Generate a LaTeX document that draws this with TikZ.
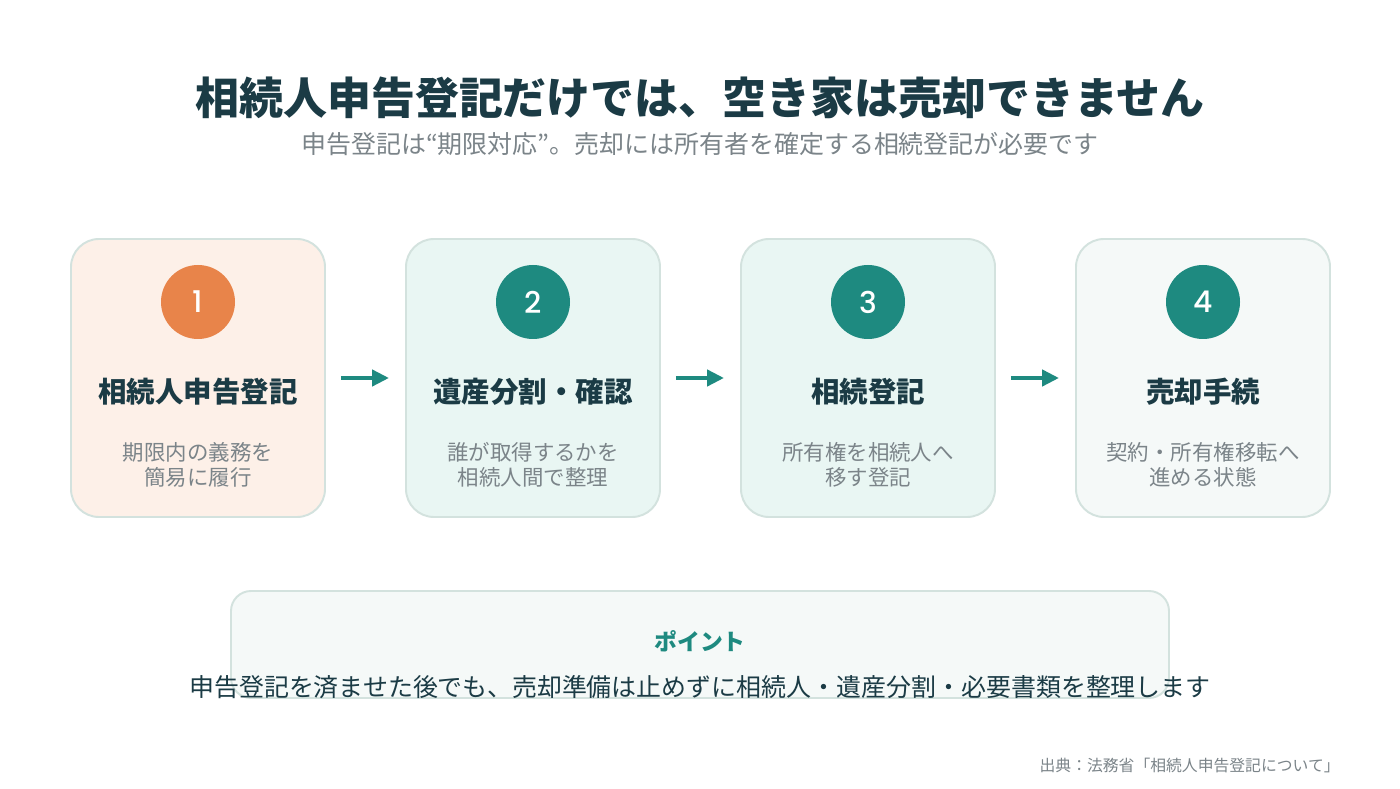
\documentclass[tikz,border=0pt]{standalone}
\usepackage{fontspec}
\setmainfont{Noto Sans CJK JP}
\newfontfamily\numfont{Poppins Medium}
\usetikzlibrary{arrows.meta, positioning}
\definecolor{ink}{HTML}{1B3B45}
\definecolor{muted}{HTML}{7B8489}
\definecolor{accent}{HTML}{1E8A80}
\definecolor{orangec}{HTML}{E8844A}
\definecolor{peach}{HTML}{FDF0E8}
\definecolor{mint}{HTML}{E9F6F3}
\definecolor{pale}{HTML}{F5F9F8}
\definecolor{cardline}{HTML}{D3E2DE}

\begin{document}
\begin{tikzpicture}[
      card/.style={draw=cardline, line width=1.1pt, rounded corners=0.56cm,
                   minimum width=5.08cm, minimum height=5.56cm},
      num/.style={circle, minimum size=1.48cm, inner sep=0pt, text=white,
                  font=\fontsize{17}{20}\selectfont\numfont},
      head/.style={text=ink, font=\fontsize{16.2}{18}\selectfont\bfseries},
      desc/.style={text=muted, align=center, font=\fontsize{12.2}{14.2}\selectfont},
      arr/.style={-{Triangle[length=0.34cm, width=0.32cm]}, line width=2.8pt,
                  draw=accent, shorten <=0.3cm, shorten >=0.32cm}
    ]
    \fill[white] (0,0) rectangle (28,15.76);
    \useasboundingbox (0,0) rectangle (28,15.76);

    % Titel
    \node[text=ink, font=\fontsize{25}{28}\selectfont\bfseries] (title) at (14,13.8)
      {相続人申告登記だけでは、空き家は売却できません};
    \node[text=muted, font=\fontsize{14.2}{16}\selectfont] (subtitle) at (14,12.88)
      {申告登記は“期限対応”。売却には所有者を確定する相続登記が必要です};

    % Schritte
    \foreach \i/\x/\fc/\cc/\hd/\ds in {
        1/3.96/peach/orangec/相続人申告登記/{期限内の義務を\\簡易に履行},
        2/10.66/mint/accent/遺産分割・確認/{誰が取得するかを\\相続人間で整理},
        3/17.36/mint/accent/相続登記/{所有権を相続人へ\\移す登記},
        4/24.06/pale/accent/売却手続/{契約・所有権移転へ\\進める状態}} {
      \node[card, fill=\fc] (card\i) at (\x,8.2) {};
      \node[num, fill=\cc] (num\i) at (\x,9.72) {\i};
      \node[head] (head\i) at (\x,7.92) {\hd};
      \node[desc] (desc\i) at (\x,6.47) {\ds};
    }

    % Pfeile
    \foreach \a/\b in {1/2,2/3,3/4}
      \draw[arr] (card\a) -- (card\b);

    % Hinweis
    \node[draw=cardline, line width=1.1pt, fill=pale, rounded corners=0.4cm,
          minimum width=18.76cm, minimum height=2.14cm] (point) at (14,2.87) {};
    \node[text=accent, font=\fontsize{13}{15}\selectfont\bfseries] (pointhead) at (14,2.94) {ポイント};
    \node[text=ink, font=\fontsize{14.2}{16}\selectfont] (pointtext) at (14,2.02)
      {申告登記を済ませた後でも、売却準備は止めずに相続人・遺産分割・必要書類を整理します};

    % Quelle
    \node[anchor=east, inner sep=0pt, text=muted, font=\fontsize{9}{10}\selectfont] (source) at (26.8,0.44)
      {出典：法務省「相続人申告登記について」};
  \end{tikzpicture}
\end{document}
